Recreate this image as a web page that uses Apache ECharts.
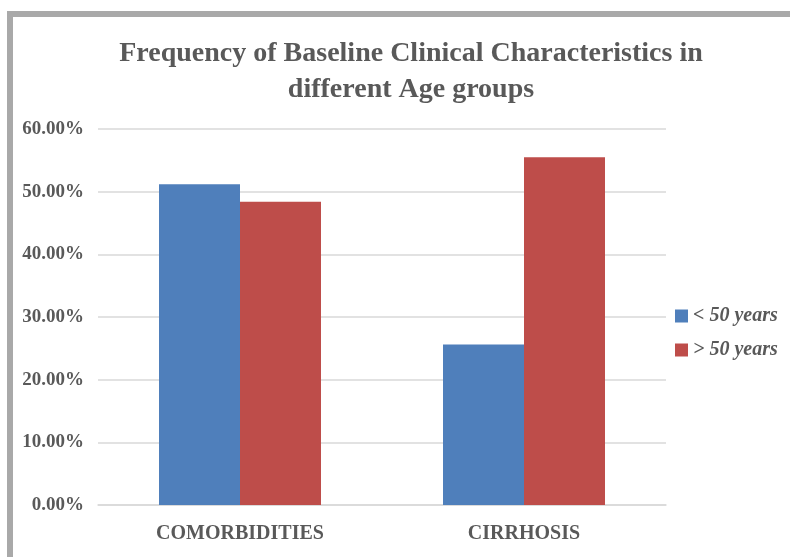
<!DOCTYPE html>
<html>
<head>
<meta charset="utf-8">
<script src="https://cdn.jsdelivr.net/npm/echarts@6/dist/echarts.min.js"></script>
<style>
html,body{margin:0;padding:0;background:#fff;}
#chart{width:790px;height:557px;}
</style>
</head>
<body>
<div id="chart"></div>
<script>
var categories = ['COMORBIDITIES', 'CIRRHOSIS'];
var seriesNames = ['< 50 years', '> 50 years'];
var under50 = [51.2, 25.6];
var over50 = [48.4, 55.5];
var yTicks = { min: 0, max: 60, interval: 10 };
var titleText = 'Frequency of Baseline Clinical Characteristics in\ndifferent Age groups';

var serif = '"Liberation Serif", "Times New Roman", serif';
var chart = echarts.init(document.getElementById('chart'), null, {renderer: 'canvas'});
chart.setOption({
  backgroundColor: '#ffffff',
  animation: false,
  graphic: [
    { type: 'rect', shape: { x: 7, y: 11, width: 783, height: 6 }, style: { fill: '#a9a9a9' } },
    { type: 'rect', shape: { x: 7, y: 11, width: 6, height: 546 }, style: { fill: '#a9a9a9' } }
  ],
  title: {
    text: titleText,
    left: 406,
    top: 31,
    textAlign: 'center',
    textStyle: { fontFamily: serif, fontWeight: 'bold', fontSize: 28, color: '#595959', lineHeight: 36 }
  },
  legend: {
    orient: 'vertical',
    left: 670,
    top: 301,
    itemWidth: 13,
    itemHeight: 13,
    itemGap: 14,
    itemTextGap: 8,
    icon: 'rect',
    textStyle: { fontFamily: serif, fontWeight: 'bold', fontStyle: 'italic', fontSize: 20, color: '#595959' },
    data: seriesNames
  },
  grid: { left: 98, right: 124, top: 129, bottom: 52, containLabel: false },
  xAxis: {
    type: 'category',
    data: categories,
    axisLine: { lineStyle: { color: '#d9d9d9', width: 1.5 } },
    axisTick: { show: false },
    axisLabel: { fontFamily: serif, fontWeight: 'bold', fontSize: 20, color: '#595959', margin: 19 }
  },
  yAxis: {
    type: 'value',
    min: yTicks.min, max: yTicks.max, interval: yTicks.interval,
    axisLine: { show: false },
    axisTick: { show: false },
    splitLine: { lineStyle: { color: '#d9d9d9', width: 1.5 } },
    axisLabel: { fontFamily: serif, fontWeight: 'bold', fontSize: 19, color: '#595959', margin: 14,
      formatter: function (v) { return v.toFixed(2) + '%'; } }
  },
  series: [
    { name: seriesNames[0], type: 'bar', data: under50, barWidth: 81, barGap: '0%', itemStyle: { color: '#4f7fbb' } },
    { name: seriesNames[1], type: 'bar', data: over50, barWidth: 81, barGap: '0%', itemStyle: { color: '#be4d4a' } }
  ]
});
</script>
</body>
</html>
